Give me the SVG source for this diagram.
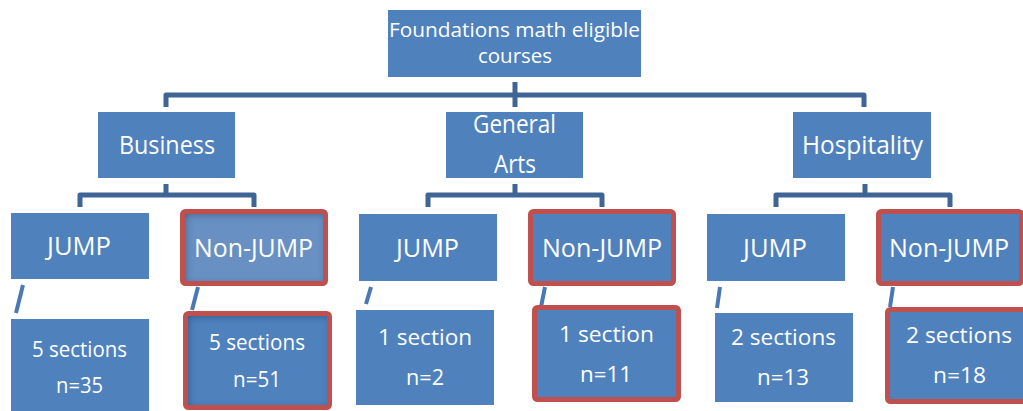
<svg xmlns="http://www.w3.org/2000/svg" width="1023" height="411" viewBox="0 0 1023 411">
<defs>
<style>
.box{fill:#4F81BD;}
.red{fill:none;stroke:#C0504D;stroke-width:5;}
.t{font-family:"Open Sans","Liberation Sans",sans-serif;fill:#FFFFFF;text-anchor:middle;}
.t1{font-size:20px;}
.t2{font-size:25px;}
.t3{font-size:26px;}
.t4{font-size:22px;}
.bar{fill:none;stroke:#3E6596;stroke-width:5;stroke-linejoin:round;}
.diag{fill:none;stroke:#4A78B4;stroke-width:4;}
</style>
<filter id="inset" x="-10%" y="-10%" width="120%" height="120%">
<feFlood flood-color="#16304F" flood-opacity="0.85"/>
<feComposite in2="SourceAlpha" operator="out"/>
<feGaussianBlur stdDeviation="4"/>
<feOffset dx="2" dy="2"/>
<feComposite in2="SourceAlpha" operator="in"/>
<feMerge><feMergeNode in="SourceGraphic"/><feMergeNode/></feMerge>
</filter>
</defs>
<rect width="1023" height="411" fill="#FFFFFF"/>
<g id="connectors">
<path class="bar" d="M166,107 V95 H864 V107"/>
<path class="bar" d="M515,82 V107"/>
<path class="bar" d="M80,207 V195 H254 V207 M166,184 V195"/>
<path class="bar" d="M428,207 V195 H602 V207 M515,184 V195"/>
<path class="bar" d="M776,207 V195 H950 V207 M865,184 V195"/>
<path class="diag" d="M23,285 L16,313"/>
<path class="diag" d="M198,287 L192,310"/>
<path class="diag" d="M371,287 L366,304"/>
<path class="diag" d="M545,287 L541,307"/>
<path class="diag" d="M720,287 L717,308"/>
<path class="diag" d="M893,287 L890,307"/>
</g>
<g id="root">
<rect class="box" x="388" y="10" width="253" height="67"/>
<text class="t t1" x="514.5" y="37" textLength="251" lengthAdjust="spacingAndGlyphs">Foundations math eligible</text>
<text class="t t1" x="515" y="63" textLength="74" lengthAdjust="spacingAndGlyphs">courses</text>
</g>
<g id="business">
<rect class="box" x="98" y="112" width="137" height="66"/>
<text class="t t2" x="167" y="154" textLength="96" lengthAdjust="spacingAndGlyphs">Business</text>
</g>
<g id="general-arts">
<rect class="box" x="446" y="112" width="137" height="66"/>
<text class="t t2" x="514.5" y="133" textLength="83" lengthAdjust="spacingAndGlyphs">General</text>
<text class="t t2" x="515" y="173" textLength="42" lengthAdjust="spacingAndGlyphs">Arts</text>
</g>
<g id="hospitality">
<rect class="box" x="793" y="112" width="138" height="66"/>
<text class="t t2" x="862.5" y="154" textLength="121" lengthAdjust="spacingAndGlyphs">Hospitality</text>
</g>
<g id="business-jump">
<rect class="box" x="11" y="213" width="138" height="66"/>
<text class="t t3" x="79" y="255" textLength="64" lengthAdjust="spacingAndGlyphs">JUMP</text>
</g>
<g id="business-nonjump">
<rect x="182.5" y="211.5" width="143" height="72" fill="#6890C2" filter="url(#inset)"/>
<rect class="red" x="182.5" y="211.5" width="143" height="72" rx="3"/>
<text class="t t3" x="253.5" y="257" textLength="119" lengthAdjust="spacingAndGlyphs">Non-JUMP</text>
</g>
<g id="arts-jump">
<rect class="box" x="359" y="214" width="138" height="67"/>
<text class="t t3" x="427.5" y="257" textLength="63" lengthAdjust="spacingAndGlyphs">JUMP</text>
</g>
<g id="arts-nonjump">
<rect class="box" x="530.5" y="211.5" width="143" height="72"/>
<rect class="red" x="530.5" y="211.5" width="143" height="72" rx="3"/>
<text class="t t3" x="602" y="257" textLength="120" lengthAdjust="spacingAndGlyphs">Non-JUMP</text>
</g>
<g id="hosp-jump">
<rect class="box" x="707" y="214" width="138" height="67"/>
<text class="t t3" x="775" y="257" textLength="64" lengthAdjust="spacingAndGlyphs">JUMP</text>
</g>
<g id="hosp-nonjump">
<rect class="box" x="878.5" y="211.5" width="143" height="72"/>
<rect class="red" x="878.5" y="211.5" width="143" height="72" rx="3"/>
<text class="t t3" x="949" y="257" textLength="120" lengthAdjust="spacingAndGlyphs">Non-JUMP</text>
</g>
<g id="business-jump-sections">
<rect class="box" x="11" y="319" width="138" height="95"/>
<text class="t t4" x="79.5" y="357" textLength="95" lengthAdjust="spacingAndGlyphs">5 sections</text>
<text class="t t4" x="79.5" y="393" textLength="47" lengthAdjust="spacingAndGlyphs">n=35</text>
</g>
<g id="business-nonjump-sections">
<rect x="185.5" y="313.5" width="144" height="94" fill="#4F81BD" filter="url(#inset)"/>
<rect class="red" x="185.5" y="313.5" width="144" height="94" rx="3"/>
<text class="t t4" x="257" y="350" textLength="96" lengthAdjust="spacingAndGlyphs">5 sections</text>
<text class="t t4" x="257" y="387" textLength="48" lengthAdjust="spacingAndGlyphs">n=51</text>
</g>
<g id="arts-jump-sections">
<rect class="box" x="356" y="310" width="138" height="95"/>
<text class="t t4" x="425" y="345" textLength="94" lengthAdjust="spacingAndGlyphs">1 section</text>
<text class="t t4" x="425" y="385" textLength="38" lengthAdjust="spacingAndGlyphs">n=2</text>
</g>
<g id="arts-nonjump-sections">
<rect class="box" x="534.5" y="307.5" width="144" height="92"/>
<rect class="red" x="534.5" y="307.5" width="144" height="92" rx="3"/>
<text class="t t4" x="606.5" y="342" textLength="95" lengthAdjust="spacingAndGlyphs">1 section</text>
<text class="t t4" x="606" y="382" textLength="52" lengthAdjust="spacingAndGlyphs">n=11</text>
</g>
<g id="hosp-jump-sections">
<rect class="box" x="715" y="313" width="138" height="89"/>
<text class="t t4" x="783.5" y="345" textLength="105" lengthAdjust="spacingAndGlyphs">2 sections</text>
<text class="t t4" x="783" y="385" textLength="52" lengthAdjust="spacingAndGlyphs">n=13</text>
</g>
<g id="hosp-nonjump-sections">
<rect class="box" x="887.5" y="309.5" width="144" height="92"/>
<rect class="red" x="887.5" y="309.5" width="144" height="92" rx="3"/>
<text class="t t4" x="959" y="343" textLength="106" lengthAdjust="spacingAndGlyphs">2 sections</text>
<text class="t t4" x="959.5" y="383" textLength="53" lengthAdjust="spacingAndGlyphs">n=18</text>
</g>
</svg>
